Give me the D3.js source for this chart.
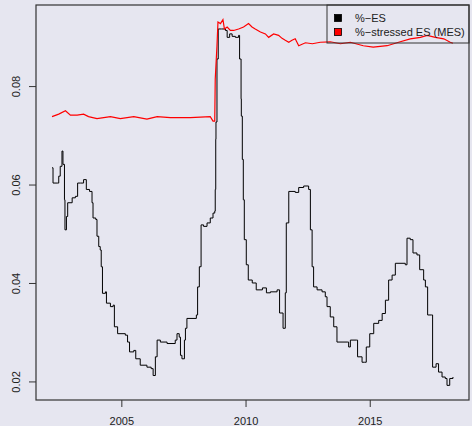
<!DOCTYPE html>
<html>
<head>
<meta charset="utf-8">
<script src="https://cdn.jsdelivr.net/npm/d3@7"></script>
<style>
  body { margin: 0; background: #e6e6f0; }
  svg { display: block; font-family: "Liberation Sans", Arial, sans-serif; }
</style>
</head>
<body>
<svg id="chart" width="472" height="426"></svg>
<script>
// %-ES as [year, value]
var esSeries = [
    [2002.21, 0.0634], [2002.25, 0.0603], [2002.44, 0.0603], [2002.48, 0.0617], [2002.54, 0.0637],
    [2002.61, 0.0668], [2002.65, 0.0641], [2002.71, 0.0569], [2002.73, 0.0508], [2002.79, 0.0535],
    [2002.84, 0.0563], [2003.02, 0.0573], [2003.15, 0.0576], [2003.24, 0.0603], [2003.35, 0.0603],
    [2003.48, 0.0610], [2003.59, 0.0590], [2003.72, 0.0586], [2003.82, 0.0563], [2003.86, 0.0532],
    [2003.97, 0.0529], [2004.02, 0.0495], [2004.09, 0.0474], [2004.15, 0.0467], [2004.19, 0.0433],
    [2004.24, 0.0379], [2004.36, 0.0382], [2004.40, 0.0359], [2004.56, 0.0352], [2004.67, 0.0355],
    [2004.72, 0.0311], [2004.85, 0.0297], [2005.16, 0.0294], [2005.25, 0.0280], [2005.33, 0.0260],
    [2005.50, 0.0263], [2005.58, 0.0246], [2005.76, 0.0233], [2006.03, 0.0229], [2006.20, 0.0226],
    [2006.28, 0.0212], [2006.37, 0.0250], [2006.44, 0.0284], [2006.57, 0.0280], [2006.84, 0.0277],
    [2007.17, 0.0284], [2007.24, 0.0297], [2007.33, 0.0290], [2007.38, 0.0253], [2007.44, 0.0246],
    [2007.54, 0.0284], [2007.58, 0.0308], [2007.64, 0.0328], [2008.02, 0.0335], [2008.07, 0.0392],
    [2008.14, 0.0433], [2008.21, 0.0518], [2008.31, 0.0515], [2008.45, 0.0522], [2008.58, 0.0532],
    [2008.69, 0.0542], [2008.76, 0.0546], [2008.78, 0.0590], [2008.80, 0.0692], [2008.81, 0.0727],
    [2008.85, 0.0855], [2008.90, 0.0916], [2009.03, 0.0916], [2009.19, 0.0913], [2009.26, 0.0899],
    [2009.36, 0.0906], [2009.46, 0.0901], [2009.59, 0.0899], [2009.72, 0.0903], [2009.76, 0.0855],
    [2009.82, 0.0774], [2009.83, 0.0739], [2009.87, 0.0651], [2009.91, 0.0569], [2009.95, 0.0488],
    [2010.03, 0.0437], [2010.11, 0.0406], [2010.27, 0.0400], [2010.43, 0.0386], [2010.68, 0.0390],
    [2010.84, 0.0380], [2011.00, 0.0382], [2011.27, 0.0386], [2011.37, 0.0339], [2011.51, 0.0308],
    [2011.60, 0.0380], [2011.64, 0.0522], [2011.74, 0.0586], [2011.87, 0.0586], [2012.00, 0.0584],
    [2012.14, 0.0594], [2012.34, 0.0597], [2012.54, 0.0590], [2012.61, 0.0508], [2012.68, 0.0433],
    [2012.74, 0.0392], [2012.88, 0.0386], [2013.08, 0.0382], [2013.21, 0.0372], [2013.28, 0.0352],
    [2013.41, 0.0331], [2013.55, 0.0311], [2013.68, 0.0280], [2014.09, 0.0280], [2014.15, 0.0270],
    [2014.22, 0.0284], [2014.46, 0.0284], [2014.51, 0.0250], [2014.69, 0.0239], [2014.78, 0.0239],
    [2014.86, 0.0270], [2015.00, 0.0297], [2015.16, 0.0318], [2015.36, 0.0324], [2015.50, 0.0338],
    [2015.63, 0.0365], [2015.76, 0.0406], [2015.90, 0.0416], [2016.03, 0.0440], [2016.43, 0.0437],
    [2016.50, 0.0491], [2016.63, 0.0488], [2016.74, 0.0461], [2016.90, 0.0457], [2017.01, 0.0427],
    [2017.17, 0.0406], [2017.24, 0.0392], [2017.33, 0.0335], [2017.48, 0.0335], [2017.53, 0.0229],
    [2017.67, 0.0236], [2017.77, 0.0219], [2017.91, 0.0209], [2018.04, 0.0206], [2018.11, 0.0192],
    [2018.22, 0.0206], [2018.35, 0.0209]
];

// %-stressed ES (MES)
var mesSeries = [
    [2002.21, 0.0738], [2002.48, 0.0743], [2002.75, 0.0750], [2002.95, 0.0741], [2003.22, 0.0741],
    [2003.48, 0.0743], [2003.68, 0.0738], [2004.02, 0.0734], [2004.56, 0.0738], [2004.96, 0.0734],
    [2005.50, 0.0738], [2006.03, 0.0733], [2006.44, 0.0738], [2006.97, 0.0736], [2007.38, 0.0736],
    [2007.78, 0.0736], [2008.18, 0.0737], [2008.58, 0.0738], [2008.69, 0.0729], [2008.76, 0.0729],
    [2008.78, 0.0814], [2008.85, 0.0882], [2008.89, 0.0930], [2008.99, 0.0927], [2009.09, 0.0935],
    [2009.15, 0.0916], [2009.26, 0.0920], [2009.39, 0.0913], [2009.52, 0.0913], [2009.72, 0.0916],
    [2009.92, 0.0920], [2010.12, 0.0927], [2010.26, 0.0920], [2010.39, 0.0916], [2010.60, 0.0910],
    [2010.80, 0.0906], [2010.93, 0.0899], [2011.13, 0.0906], [2011.33, 0.0903], [2011.47, 0.0897],
    [2011.60, 0.0893], [2011.74, 0.0889], [2011.87, 0.0893], [2012.00, 0.0896], [2012.14, 0.0882],
    [2012.41, 0.0888], [2012.69, 0.0886], [2013.01, 0.0889], [2013.41, 0.0890], [2013.82, 0.0886],
    [2014.22, 0.0889], [2014.74, 0.0882], [2015.14, 0.0879], [2015.70, 0.0882], [2016.23, 0.0890],
    [2016.63, 0.0896], [2017.04, 0.0899], [2017.31, 0.0903], [2017.64, 0.0899], [2017.98, 0.0896],
    [2018.24, 0.0889], [2018.35, 0.0887]
];

var xTicks = [2005, 2010, 2015];
var yTicks = [0.02, 0.04, 0.06, 0.08];
var legendLabels = ["%\u2212ES", "%\u2212stressed ES (MES)"];
var legendColors = ["#000000", "#ff0000"];

var svg = d3.select("#chart");
var plotLeft = 36, plotRight = 469, plotTop = 5, plotBottom = 400;

// R style range: data extent widened by 4%
var pad = function(ext) {
    var d = (ext[1] - ext[0]) * 0.04;
    return [ext[0] - d, ext[1] + d];
};

var all = esSeries.concat(mesSeries);
var x = d3.scaleLinear()
    .domain(pad(d3.extent(all, function(d) { return d[0]; })))
    .range([plotLeft, plotRight]);
var y = d3.scaleLinear()
    .domain(pad(d3.extent(all, function(d) { return d[1]; })))
    .range([plotBottom, plotTop]);

var line = d3.line()
    .x(function(d) { return x(d[0]); })
    .y(function(d) { return y(d[1]); });

// the ES estimate moves in steps
svg.append("path")
    .datum(esSeries)
    .attr("fill", "none")
    .attr("stroke", "#000")
    .attr("stroke-width", 1)
    .attr("d", line.curve(d3.curveStepAfter));

svg.append("path")
    .datum(mesSeries)
    .attr("fill", "none")
    .attr("stroke", "#ff0000")
    .attr("stroke-width", 1.2)
    .attr("d", line.curve(d3.curveLinear));

// axes
var xAxis = svg.append("g")
    .attr("transform", "translate(0," + plotBottom + ")")
    .call(d3.axisBottom(x).tickValues(xTicks).tickSize(7).tickPadding(10).tickFormat(d3.format("d")));

var yAxis = svg.append("g")
    .attr("transform", "translate(" + plotLeft + ",0)")
    .call(d3.axisLeft(y).tickValues(yTicks).tickSize(7).tickFormat(d3.format(".2f")));

[xAxis, yAxis].forEach(function(g) {
    g.select(".domain").remove();
    g.selectAll("line").attr("stroke", "#333");
    g.selectAll("text")
        .attr("fill", "#222")
        .style("font-size", "11px")
        .style("font-family", "'Liberation Sans', Arial, sans-serif");
});

yAxis.selectAll("text")
    .attr("x", null)
    .attr("dy", null)
    .attr("text-anchor", "middle")
    .attr("transform", "translate(-16,0) rotate(-90)");

// plot box
svg.append("rect")
    .attr("x", plotLeft)
    .attr("y", plotTop)
    .attr("width", plotRight - plotLeft)
    .attr("height", plotBottom - plotTop)
    .attr("fill", "none")
    .attr("stroke", "#333")
    .attr("stroke-width", 1.2);

// legend
var legend = svg.append("g");
legend.append("rect")
    .attr("x", 327)
    .attr("y", plotTop)
    .attr("width", plotRight - 327)
    .attr("height", 38)
    .attr("fill", "none")
    .attr("stroke", "#333")
    .attr("stroke-width", 1);

var item = legend.selectAll(".item")
    .data(legendLabels)
    .enter().append("g")
    .attr("class", "item")
    .attr("transform", function(d, i) { return "translate(338," + (18 + i * 14) + ")"; });

item.append("rect")
    .attr("x", -3.5)
    .attr("y", -3.5)
    .attr("width", 7)
    .attr("height", 7)
    .attr("fill", function(d, i) { return legendColors[i]; })
    .attr("stroke", "#000")
    .attr("stroke-width", 0.8);

item.append("text")
    .attr("x", 17)
    .attr("y", 4)
    .attr("fill", "#222")
    .style("font-size", "11px")
    .text(function(d) { return d; });
</script>
</body>
</html>
